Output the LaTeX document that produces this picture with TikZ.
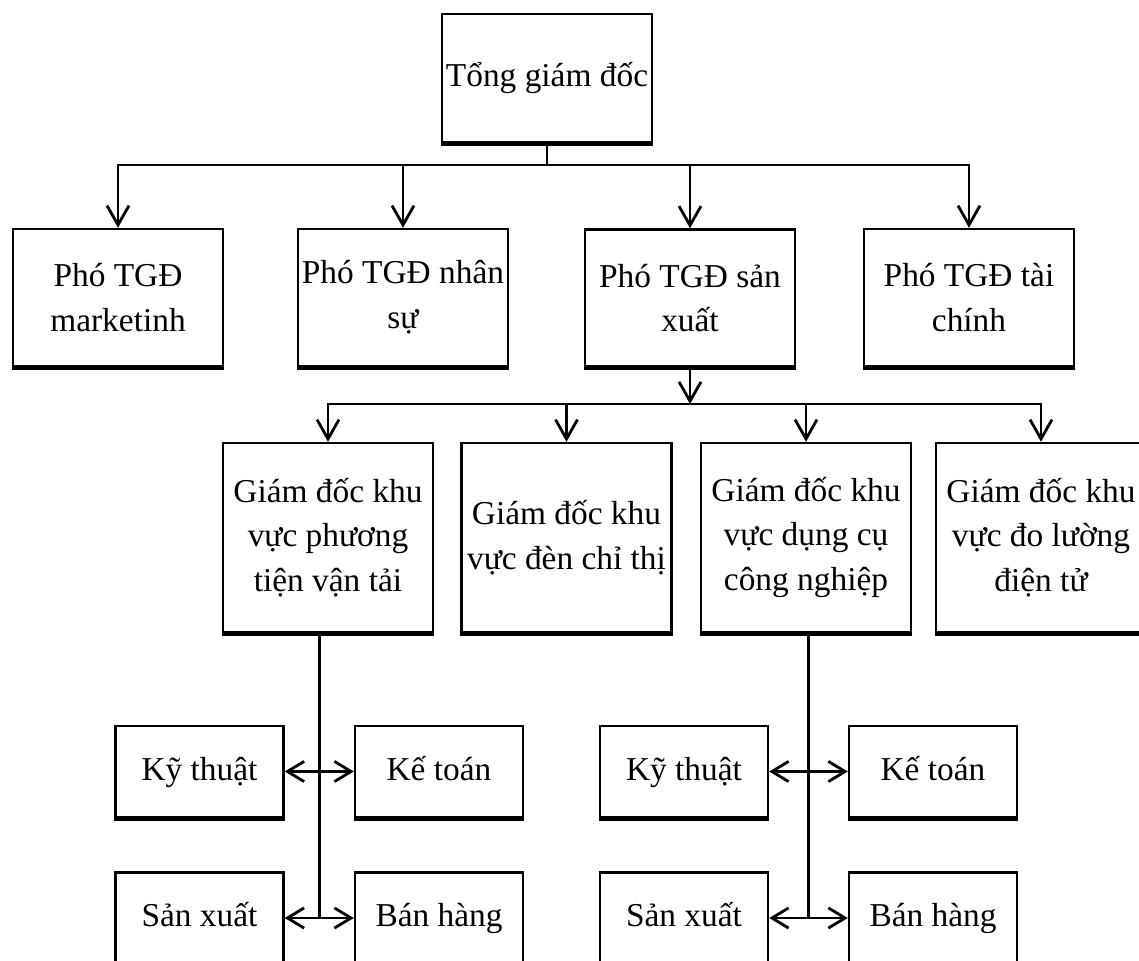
\documentclass[tikz,border=0pt]{standalone}
\usepackage{fontspec}
\setmainfont{Liberation Serif}
\usetikzlibrary{arrows.meta,calc}
\begin{document}
\begin{tikzpicture}[x=0.02cm,y=-0.02cm,
  box/.style={draw, line width=1.4pt, align=center, inner sep=1pt,
    font=\fontsize{19}{25.5}\selectfont,
    append after command={(\tikzlastnode.south west) edge[line width=2.6pt,-] (\tikzlastnode.south east)}},
  oneline/.style={text height=1.05em, text depth=0.05em},
  topbox/.style={box, oneline, minimum width=4.2cm, minimum height=2.56cm},
  vpbox/.style={box, minimum width=4.2cm, minimum height=2.74cm},
  areabox/.style={box, minimum width=4.2cm, minimum height=3.78cm},
  deptbox/.style={box, oneline, minimum width=3.36cm, minimum height=1.83cm},
  link/.style={line width=1.6pt},
  arr/.style={link, -{Straight Barb[length=11pt,width=12.5pt,line width=1.6pt]}},
  dbl/.style={link, {Straight Barb[length=9.5pt,width=11.5pt,line width=1.6pt]}-{Straight Barb[length=9.5pt,width=11.5pt,line width=1.6pt]}}
]
\clip (0,0) rectangle (1139,960);
\fill[white] (0,0) rectangle (1139,960);

% top level
\node[topbox] (top) at (547,78) {Tổng giám đốc};

% deputy directors
\node[vpbox] (p1) at (118,297.5) {Phó TGĐ\\marketinh};
\node[vpbox] (p2) at (403,297.5) {Phó TGĐ nhân\\sự};
\node[vpbox] (p3) at (690,298) {Phó TGĐ sản\\xuất};
\node[vpbox] (p4) at (969,297.5) {Phó TGĐ tài\\chính};

% area directors
\node[areabox] (g1) at (328,537.5) {Giám đốc khu\\vực phương\\tiện vận tải};
\node[areabox] (g2) at (566.5,537.5) {Giám đốc khu\\vực đèn chỉ thị};
\node[areabox] (g3) at (806,537.5) {Giám đốc khu\\vực dụng cụ\\công nghiệp};
\node[areabox] (g4) at (1041,537.5) {Giám đốc khu\\vực đo lường\\điện tử};

% departments, left group
\node[deptbox] (k1) at (199.5,771.5) {Kỹ thuật};
\node[deptbox] (t1) at (439,771.5) {Kế toán};
\node[deptbox] (s1) at (199.5,918) {Sản xuất};
\node[deptbox] (h1) at (439,918) {Bán hàng};

% departments, right group
\node[deptbox] (k2) at (684,771.5) {Kỹ thuật};
\node[deptbox] (t2) at (933,771.5) {Kế toán};
\node[deptbox] (s2) at (684,918) {Sản xuất};
\node[deptbox] (h2) at (933,918) {Bán hàng};

% bus lines
\coordinate (b1) at (547,165);
\coordinate (b2) at (690,404);

% top -> deputies
\draw[link] (top.south) -- (b1);
\foreach \n in {p1,p2,p3,p4}
  \draw[arr] (b1) -| (\n.north);

% production deputy -> area directors
\draw[arr] (p3.south) -- (p3.south |- b2);
\foreach \n in {g1,g2,g3,g4}
  \draw[arr] (b2) -| (\n.north);

% area directors -> departments
\coordinate (m1) at ($(s1.east)!0.5!(h1.west)$);
\coordinate (m2) at ($(s2.east)!0.5!(h2.west)$);
\draw[link] (g1.south -| m1) -- (m1);
\draw[link] (g3.south -| m2) -- (m2);
\draw[dbl] (k1) -- (t1);
\draw[dbl] (s1) -- (h1);
\draw[dbl] (k2) -- (t2);
\draw[dbl] (s2) -- (h2);
\end{tikzpicture}
\end{document}
